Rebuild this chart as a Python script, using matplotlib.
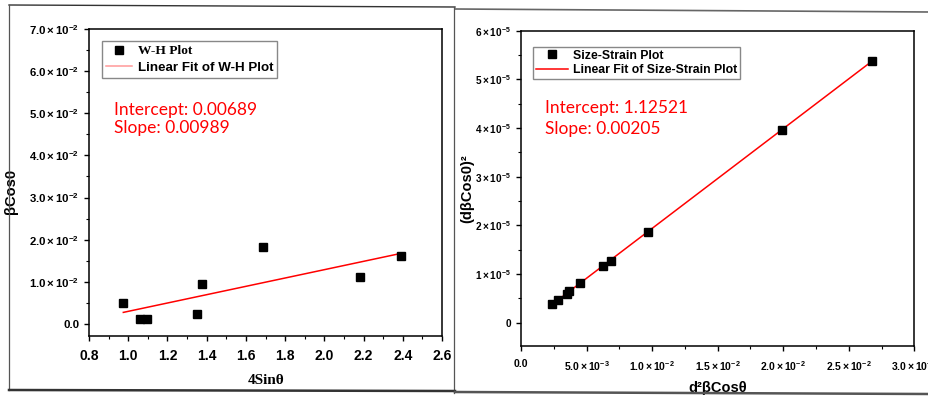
import numpy as np
import matplotlib
matplotlib.use("Agg")
import matplotlib.pyplot as plt
from matplotlib.lines import Line2D
from matplotlib.ticker import FixedLocator, MultipleLocator, FuncFormatter

plt.rcParams["font.family"] = ["Liberation Sans", "DejaVu Sans"]
plt.rcParams["font.weight"] = "bold"
plt.rcParams["mathtext.fontset"] = "custom"
plt.rcParams["mathtext.rm"] = "Liberation Sans:weight=bold"
plt.rcParams["mathtext.it"] = "Liberation Sans:weight=bold"
plt.rcParams["mathtext.bf"] = "Liberation Sans:weight=bold"

# W-H plot data (left)
wh_x = [0.975, 1.062, 1.094, 1.352, 1.378, 1.686, 2.180, 2.389]
wh_y = [0.0049, 0.0012, 0.0012, 0.0023, 0.0094, 0.0183, 0.0112, 0.0161]
wh_slope = 0.00989
wh_intercept = -0.00689
wh_yticks = [0.0, 0.01, 0.02, 0.03, 0.04, 0.05, 0.06, 0.07]

# Size-strain plot data (right)
ss_x = [0.00239, 0.00280, 0.00353, 0.00369, 0.00452, 0.00625, 0.00687, 0.00969, 0.01993, 0.02677]
ss_y = [0.378e-5, 0.46e-5, 0.596e-5, 0.645e-5, 0.81e-5, 1.16e-5, 1.27e-5, 1.86e-5, 3.97e-5, 5.38e-5]
ss_slope = 0.00205
ss_intercept = -1.12521e-6
ss_yticks = [0, 1e-5, 2e-5, 3e-5, 4e-5, 5e-5, 6e-5]
ss_xticks = [0.0, 0.005, 0.01, 0.015, 0.02, 0.025, 0.03]

RED = "#ff0000"

fig = plt.figure(figsize=(9.29, 4.0), dpi=100)


def sci_fmt(val, digits):
    if val == 0:
        return "0.0" if digits else "0"
    exp = int(np.floor(np.log10(abs(val)) + 1e-9))
    mant = val / 10 ** exp
    m = f"{mant:.{digits}f}"
    return r"$\mathbf{%s\times10^{%d}}$" % (m, exp)


def style_axes(ax):
    for s in ax.spines.values():
        s.set_linewidth(1.1)
    ax.tick_params(which="both", direction="out", top=False, right=False)
    ax.tick_params(which="major", length=3.5, width=1)
    ax.tick_params(which="minor", length=2, width=0.8)


# ---- left panel ----
ax1 = fig.add_axes([0.0958, 0.16, 0.380, 0.7675])
ax1.plot(wh_x, wh_y, "s", color="black", markersize=6, label="W-H Plot", zorder=3)
fx = np.array([wh_x[0], wh_x[-1]])
ax1.plot(fx, wh_slope * fx + wh_intercept, color=RED, lw=1.1, label="Linear Fit of W-H Plot")
ax1.set_xlim(0.8, 2.6)
ax1.set_ylim(-0.00285, 0.07)
ax1.xaxis.set_major_locator(MultipleLocator(0.2))
ax1.xaxis.set_minor_locator(MultipleLocator(0.1))
ax1.yaxis.set_major_locator(FixedLocator(wh_yticks))
ax1.yaxis.set_minor_locator(MultipleLocator(0.005))
ax1.yaxis.set_major_formatter(FuncFormatter(lambda v, p: sci_fmt(v, 1)))
ax1.tick_params(axis="x", labelsize=10, pad=6)
ax1.tick_params(axis="y", labelsize=8.2)
style_axes(ax1)
ax1.set_xlabel("4Sin\u03b8", family="Liberation Serif", fontweight="bold", fontsize=11)
ax1.xaxis.set_label_coords(0.503, -0.125)
ax1.set_ylabel("\u03b2Cos0", fontweight="bold", fontsize=10.5)
ax1.yaxis.set_label_coords(-0.2, 0.47)
leg1 = ax1.legend(loc="upper left", bbox_to_anchor=(0.036, 0.961), borderaxespad=0,
                  fancybox=False, edgecolor="#888888", framealpha=1, fontsize=9.6,
                  handlelength=2.0, handletextpad=0.4, borderpad=0.3, labelspacing=0.3)
leg1.get_frame().set_linewidth(1.0)
t0, t1 = leg1.get_texts()
t0.set_family("Liberation Serif")
t0.set_fontweight("bold")
leg1.get_lines()[1].set_color("#ff9999")
ax1.text(0.07, 0.736, "Intercept: 0.00689", transform=ax1.transAxes, color=RED,
         fontsize=12.5, family="Lato", fontweight="normal", va="center")
ax1.text(0.07, 0.676, "Slope: 0.00989", transform=ax1.transAxes, color=RED,
         fontsize=12.5, family="Lato", fontweight="normal", va="center")

# ---- right panel ----
ax2 = fig.add_axes([0.5608, 0.135, 0.4234, 0.788])
ax2.plot(ss_x, ss_y, "s", color="black", markersize=6, label="Size-Strain Plot", zorder=3)
gx = np.array([ss_x[0], ss_x[-1]])
ax2.plot(gx, ss_slope * gx + ss_intercept, color=RED, lw=1.1, label="Linear Fit of Size-Strain Plot")
ax2.set_xlim(0, 0.03)
ax2.set_ylim(-0.48e-5, 6e-5)
ax2.xaxis.set_major_locator(FixedLocator(ss_xticks))
ax2.xaxis.set_minor_locator(MultipleLocator(0.0025))
ax2.yaxis.set_major_locator(FixedLocator(ss_yticks))
ax2.yaxis.set_minor_locator(MultipleLocator(0.5e-5))
ax2.xaxis.set_major_formatter(FuncFormatter(lambda v, p: sci_fmt(v, 1)))
ax2.yaxis.set_major_formatter(FuncFormatter(lambda v, p: sci_fmt(v, 0)))
ax2.tick_params(axis="x", labelsize=7.5, pad=6)
ax2.tick_params(axis="y", labelsize=7.2)
style_axes(ax2)
ax2.set_xlabel("d\u00b2\u03b2Cos\u03b8", fontweight="bold", fontsize=10.5)
ax2.xaxis.set_label_coords(0.5, -0.11)
ax2.set_ylabel("(d\u03b2Cos0)\u00b2", fontweight="bold", fontsize=10.5)
ax2.yaxis.set_label_coords(-0.118, 0.5)
leg2 = ax2.legend(loc="upper left", bbox_to_anchor=(0.031, 0.95), borderaxespad=0,
                  fancybox=False, edgecolor="#888888", framealpha=1, fontsize=8.8,
                  handlelength=2.6, handletextpad=0.4, borderpad=0.25, labelspacing=0.2)
leg2.get_frame().set_linewidth(1.0)
ax2.text(0.06, 0.755, "Intercept: 1.12521", transform=ax2.transAxes, color=RED,
         fontsize=12.5, family="Lato", fontweight="normal", va="center")
ax2.text(0.06, 0.688, "Slope: 0.00205", transform=ax2.transAxes, color=RED,
         fontsize=12.5, family="Lato", fontweight="normal", va="center")

# ---- panel frames ----
def fline(x0, y0, x1, y1, **kw):
    fig.add_artist(Line2D([x0 / 929, x1 / 929], [1 - y0 / 400, 1 - y1 / 400],
                          transform=fig.transFigure, **kw))

fline(9, 5, 455, 7, color="#333333", lw=1.0)
fline(455, 9, 929, 12, color="#666666", lw=1.2)
fline(9, 5, 9, 390, color="#555555", lw=0.9)
fline(454, 7, 454, 393, color="#555555", lw=0.9)
fline(9, 390, 455, 391, color="#333333", lw=1.8)
fline(455, 392, 929, 394, color="#555555", lw=1.8)

fig.savefig("out.png", dpi=100)
